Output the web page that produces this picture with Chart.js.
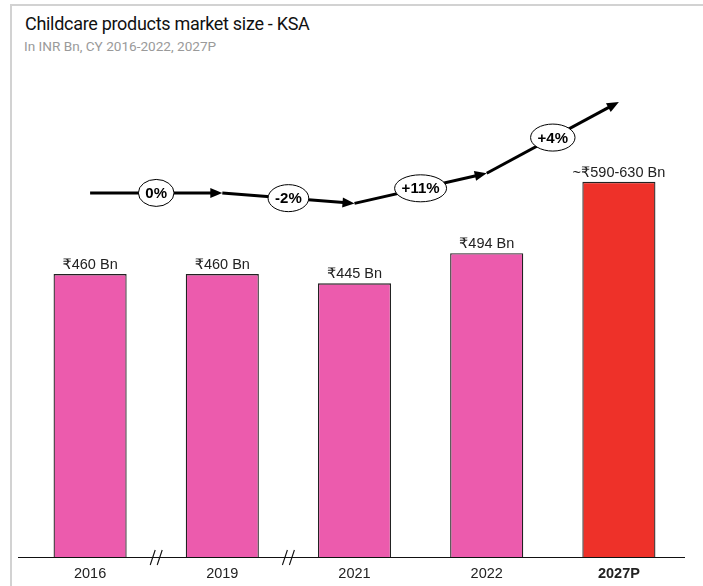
<!DOCTYPE html>
<html>
<head>
<meta charset="utf-8">
<script src="https://cdn.jsdelivr.net/npm/chart.js@4.4.1/dist/chart.umd.min.js"></script>
<style>
  html, body { margin: 0; padding: 0; background: #fff; }
  #wrap { position: relative; width: 703px; height: 586px; overflow: hidden; }
  #frame { position: absolute; left: 10px; top: 4px; right: -5px; bottom: -5px;
           border-top: 2px solid #d2d2d2; border-left: 2px solid #d2d2d2; }
  #title { position: absolute; left: 25px; top: 13px; font-family: Roboto, "Liberation Sans", Arial, sans-serif;
           font-size: 18px; color: #111; letter-spacing: -0.3px; white-space: nowrap; }
  #subtitle { position: absolute; left: 24px; top: 38px; font-family: Roboto, "Liberation Sans", Arial, sans-serif;
           font-size: 13.6px; color: #9a9a9a; white-space: nowrap; }
  canvas { position: absolute; left: 0; top: 0; }
</style>
</head>
<body>
<div id="wrap">
  <div id="frame"></div>
  <div id="title">Childcare products market size - KSA</div>
  <div id="subtitle">In INR Bn, CY 2016-2022, 2027P</div>
  <canvas id="c" width="703" height="586"></canvas>
</div>
<script>
// ---- data ----
const categories = ['2016', '2019', '2021', '2022', '2027P'];
const marketSize = [460, 460, 445, 494, 610];
const barLabels = ['₹460 Bn', '₹460 Bn', '₹445 Bn', '₹494 Bn', '~₹590-630 Bn'];
const growthLabels = ['0%', '-2%', '+11%', '+4%'];
const trendLevels = [592, 592, 575, 624, 740];
const axisBreaksAfter = [0, 1];
const projectedIndex = 4;

const PINK = '#EC5BAD';
const RED = '#EE3129';
const BASE_FONT = '"Liberation Sans", Arial, "DejaVu Sans", sans-serif';

const overlayPlugin = {
  id: 'overlay',
  afterDatasetsDraw(chart) {
    const ctx = chart.ctx;
    const xs = chart.scales.x, ys = chart.scales.y;
    const area = chart.chartArea;
    const meta = chart.getDatasetMeta(0);
    ctx.save();

    // baseline
    ctx.strokeStyle = '#111';
    ctx.lineWidth = 1.2;
    ctx.beginPath();
    ctx.moveTo(area.left - 6, area.bottom + 0.5);
    ctx.lineTo(area.right, area.bottom + 0.5);
    ctx.stroke();

    // axis breaks
    ctx.lineWidth = 1.1;
    axisBreaksAfter.forEach(i => {
      const xm = (xs.getPixelForValue(i) + xs.getPixelForValue(i + 1)) / 2;
      const yb = area.bottom;
      [-3.5, 3.5].forEach(dx => {
        ctx.beginPath();
        ctx.moveTo(xm + dx - 2.5, yb + 8);
        ctx.lineTo(xm + dx + 2.5, yb - 7);
        ctx.stroke();
      });
    });

    // bar value labels
    ctx.fillStyle = '#222';
    ctx.font = '14.5px ' + BASE_FONT;
    ctx.textAlign = 'center';
    ctx.textBaseline = 'alphabetic';
    meta.data.forEach((bar, i) => {
      ctx.fillText(barLabels[i], bar.x, bar.y - 5);
    });

    // trend arrows
    const pts = trendLevels.map((v, i) => ({ x: xs.getPixelForValue(i), y: ys.getPixelForValue(v) }));
    ctx.strokeStyle = '#000';
    ctx.fillStyle = '#000';
    ctx.lineWidth = 3;
    const headLen = 12, headHalf = 5;
    for (let i = 0; i < pts.length - 1; i++) {
      const a = pts[i], b = pts[i + 1];
      const dx = b.x - a.x, dy = b.y - a.y;
      const len = Math.hypot(dx, dy);
      const ux = dx / len, uy = dy / len;
      const bx = b.x - ux * headLen, by = b.y - uy * headLen;
      ctx.beginPath();
      ctx.moveTo(a.x, a.y);
      ctx.lineTo(bx + ux * 1, by + uy * 1);
      ctx.stroke();
      ctx.beginPath();
      ctx.moveTo(b.x, b.y);
      ctx.lineTo(bx - uy * headHalf, by + ux * headHalf);
      ctx.lineTo(bx + uy * headHalf, by - ux * headHalf);
      ctx.closePath();
      ctx.fill();
    }

    // growth labels in ellipses
    ctx.font = 'bold 15px ' + BASE_FONT;
    ctx.textBaseline = 'middle';
    for (let i = 0; i < growthLabels.length; i++) {
      const a = pts[i], b = pts[i + 1];
      const cx = (a.x + b.x) / 2, cy = (a.y + b.y) / 2;
      const w = ctx.measureText(growthLabels[i]).width;
      const rx = w / 2 + 7, ry = 13.5;
      ctx.beginPath();
      ctx.ellipse(cx, cy, rx, ry, 0, 0, Math.PI * 2);
      ctx.fillStyle = '#fff';
      ctx.fill();
      ctx.lineWidth = 1;
      ctx.strokeStyle = '#000';
      ctx.stroke();
      ctx.fillStyle = '#000';
      ctx.fillText(growthLabels[i], cx, cy + 1);
    }
    ctx.restore();
  }
};

new Chart(document.getElementById('c'), {
  type: 'bar',
  data: {
    labels: categories,
    datasets: [{
      data: marketSize,
      backgroundColor: categories.map((_, i) => i === projectedIndex ? RED : PINK),
      borderColor: '#222',
      borderWidth: 1.3,
      categoryPercentage: 1,
      barPercentage: 0.553
    }]
  },
  options: {
    responsive: false,
    animation: false,
    layout: { padding: { left: 24, right: 18, top: 65, bottom: 0 } },
    plugins: { legend: { display: false }, tooltip: { enabled: false }, title: { display: false } },
    scales: {
      x: {
        grid: { display: false, drawTicks: false, tickLength: 0 },
        border: { display: false },
        afterFit: (scale) => { scale.height = 29; },
        ticks: {
          padding: 8,
          color: '#222',
          font: (c) => ({ family: BASE_FONT, size: 14.5, weight: c.index === projectedIndex ? 'bold' : 'normal' })
        }
      },
      y: { display: false, min: 0, max: 800 }
    }
  },
  plugins: [overlayPlugin]
});
</script>
</body>
</html>
